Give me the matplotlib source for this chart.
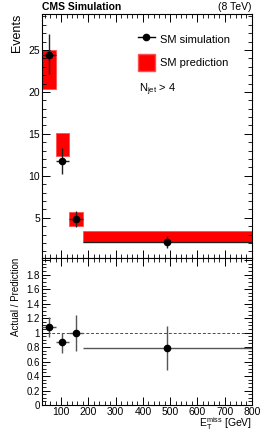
import numpy as np
import matplotlib
matplotlib.use('Agg')
import matplotlib.pyplot as plt
from matplotlib.lines import Line2D
from matplotlib.patches import Patch
from matplotlib.ticker import MultipleLocator

plt.rcParams['font.family'] = ['Liberation Sans', 'DejaVu Sans']
plt.rcParams['mathtext.fontset'] = 'custom'
plt.rcParams['mathtext.rm'] = 'Liberation Sans'
plt.rcParams['mathtext.it'] = 'Liberation Sans:italic'

# binning in MET
bin_edges = [30, 80, 130, 180, 800]
bin_centers = [55, 105, 155, 490]

# SM prediction band (low / high edge of the box)
pred_lo = [20.4, 12.4, 4.05, 2.07]
pred_hi = [25.0, 15.15, 5.7, 3.37]

# SM simulation points
sim_y = [24.4, 11.8, 4.85, 2.15]
sim_err_lo = [2.3, 1.6, 1.0, 0.76]
sim_err_hi = [2.5, 1.5, 0.98, 0.71]

# actual / prediction
ratio_y = [1.077, 0.87, 1.0, 0.79]
ratio_err_lo = [0.14, 0.15, 0.25, 0.30]
ratio_err_hi = [0.14, 0.13, 0.25, 0.30]

edges = np.array(bin_edges)
widths = np.diff(edges)
xc = np.array(bin_centers)
xerr = [xc - edges[:-1], edges[1:] - xc]

fig = plt.figure(figsize=(2.66, 4.33), dpi=100)
ax = fig.add_axes([0.158, 0.404, 0.789, 0.564])
axr = fig.add_axes([0.158, 0.0647, 0.789, 0.3393])

ax.bar(edges[:-1], np.array(pred_hi) - np.array(pred_lo), width=widths, bottom=pred_lo,
       align='edge', color='#ff0000', edgecolor='#ff5050', linewidth=0.6, zorder=1)
ax.errorbar(xc, sim_y, xerr=xerr, yerr=[sim_err_lo, sim_err_hi], fmt='o', color='black',
            ecolor='#222222', elinewidth=1.0, markersize=4.5, capsize=0, zorder=3)

ax.set_xlim(30, 800)
ax.set_ylim(0.2, 29.3)
ax.yaxis.set_major_locator(MultipleLocator(5))
ax.yaxis.set_minor_locator(MultipleLocator(1))
ax.set_ylabel('Events', loc='top', fontsize=9)
ax.set_yticks([5, 10, 15, 20, 25])

leg_handles = [Line2D([], [], color='black', marker='o', markersize=4.5, linewidth=1.0),
               Patch(facecolor='#ff0000', edgecolor='#ff5050')]
leg = ax.legend(leg_handles, ['SM simulation', 'SM prediction'], loc='upper left',
                bbox_to_anchor=(0.41, 0.97), frameon=False, fontsize=8,
                handlelength=1.5, handleheight=1.9, handletextpad=0.5, labelspacing=0.6)
ax.text(0.46, 0.69, r'N$_{\mathrm{jet}}$ > 4', transform=ax.transAxes, fontsize=8,
        ha='left', va='center')

axr.axhline(1.0, color='#ff0000', linestyle=(0, (3, 2)), linewidth=0.7, zorder=1)
axr.errorbar(xc, ratio_y, xerr=xerr, yerr=[ratio_err_lo, ratio_err_hi], fmt='o', color='black',
             ecolor='#555555', elinewidth=1.0, markersize=4.5, capsize=0, zorder=3)
axr.set_xlim(30, 800)
axr.set_ylim(0, 2.03)
axr.yaxis.set_major_locator(MultipleLocator(0.2))
axr.yaxis.set_minor_locator(MultipleLocator(0.05))
axr.set_yticks(np.arange(0, 2.01, 0.2))
axr.set_yticklabels(['0', '0.2', '0.4', '0.6', '0.8', '1', '1.2', '1.4', '1.6', '1.8', ''])
axr.set_ylabel('Actual / Prediction', loc='top', fontsize=7)
axr.set_xlabel(r'E$_{\mathrm{T}}^{\mathrm{miss}}$ [GeV]', loc='right', fontsize=7.5, labelpad=-1)

for a in (ax, axr):
    a.xaxis.set_major_locator(MultipleLocator(100))
    a.xaxis.set_minor_locator(MultipleLocator(20))
    a.tick_params(which='both', direction='in', top=True, right=True, labelsize=7.5, pad=1.5)
    a.tick_params(which='major', length=6, width=0.7)
    a.tick_params(which='minor', length=3, width=0.6)
    for s in a.spines.values():
        s.set_linewidth(0.8)
ax.tick_params(axis='x', labelbottom=False)
axr.tick_params(axis='y', labelsize=7)
axr.set_xticks([100, 200, 300, 400, 500, 600, 700, 800])

fig.text(0.158, 0.973, 'CMS Simulation', fontsize=7.5, fontweight='bold', ha='left', va='bottom')
fig.text(0.947, 0.973, '(8 TeV)', fontsize=7.5, ha='right', va='bottom')

fig.savefig('out.png', dpi=100)
